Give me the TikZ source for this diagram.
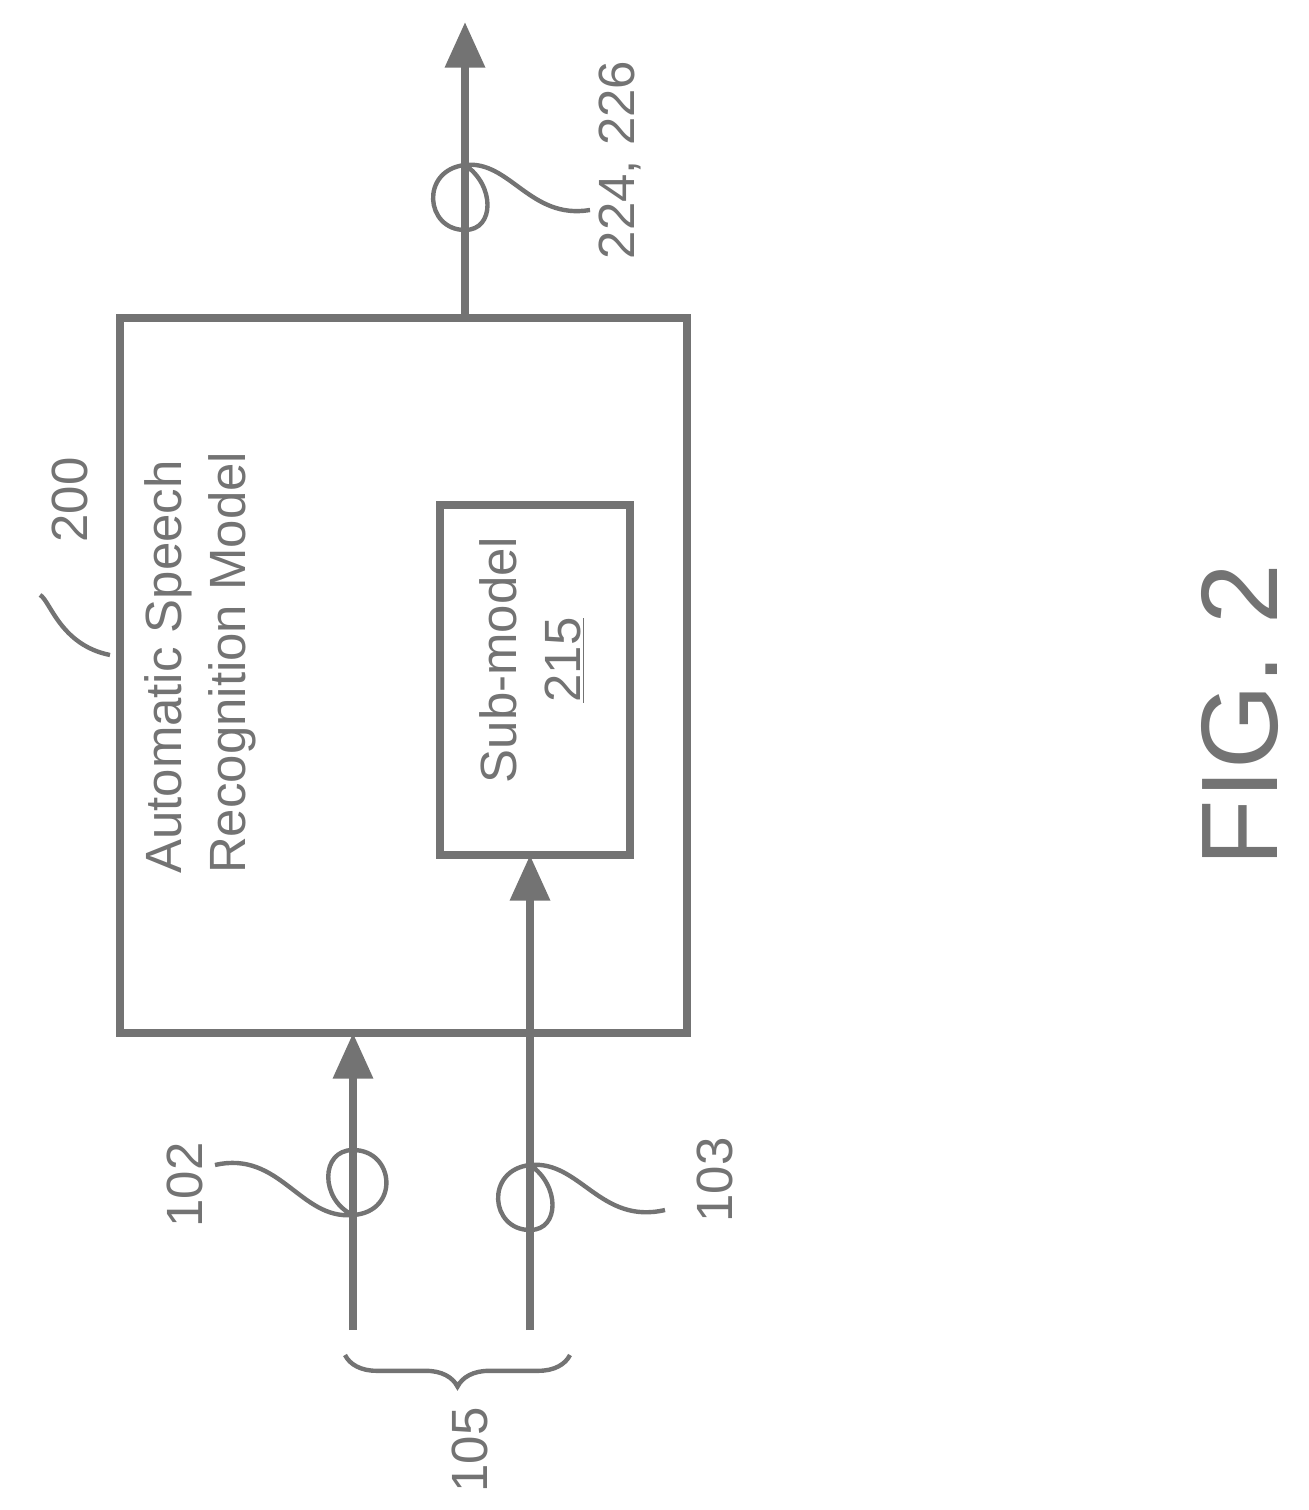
\documentclass[tikz,border=0pt]{standalone}
\usepackage{fontspec}
\setmainfont{Liberation Sans}
\usetikzlibrary{arrows.meta,positioning,decorations.pathreplacing}
\definecolor{ink}{rgb}{.45,.45,.45}
\tikzset{
  line/.style={draw=ink,line width=4.5pt},
  sig/.style={line,-{Triangle[length=26pt,width=22pt]}},
  lead/.style={draw=ink,line width=2.5pt},
  lbl/.style={rotate=90,text=ink,font=\fontsize{29}{36}\selectfont}
}
\begin{document}
\begin{tikzpicture}[x=0.02cm,y=-0.02cm]
  \useasboundingbox (0,0) rectangle (1308,1510);
  % boxes
  \draw[line] (120,318) rectangle (687,1033);
  \draw[line] (440,505) rectangle (630,855);
  \coordinate (asrtop) at (465,318);
  \coordinate (asrbot) at (353,1033);
  \coordinate (subbot) at (530,855);
  \coordinate (out) at (465,22);
  \coordinate (in1) at (353,1330);
  \coordinate (in2) at (530,1330);
  \node[lbl,align=left,anchor=south west] (asr) at (262,880) {Automatic Speech\\Recognition Model};
  \node[lbl,align=center] (sub) at (532,660) {Sub-model\\\underline{215}};
  % signals
  \draw[sig] (in1) -- (asrbot);
  \draw[sig] (in2) -- (subbot);
  \draw[sig] (asrtop) -- (out);
  % loops
  \draw[lead] (215,1165) .. controls (280,1150) and (300,1220) .. (353,1215)
    .. controls (400,1212) and (395,1150) .. (353,1150)
    .. controls (320,1150) and (320,1200) .. (353,1215);
  \draw[lead] (665,1210) .. controls (600,1225) and (580,1160) .. (530,1165)
    .. controls (485,1170) and (490,1230) .. (530,1230)
    .. controls (560,1230) and (560,1185) .. (530,1165);
  \draw[lead] (590,210) .. controls (530,220) and (510,160) .. (465,165)
    .. controls (420,170) and (425,230) .. (465,230)
    .. controls (495,230) and (495,185) .. (465,165);
  \draw[lead] (110,655) .. controls (60,645) and (50,600) .. (40,595);
  % brace
  \draw[lead,decorate,decoration={brace,amplitude=18pt}] (570,1355) -- (345,1355);
  % labels
  \node[lbl] (l102) at (185,1185) {102};
  \node[lbl] (l103) at (715,1180) {103};
  \node[lbl] (l224) at (620,160) {224, 226};
  \node[lbl] (l200) at (70,500) {200};
  \node[lbl] (l105) at (470,1450) {105};
  \node[lbl,inner sep=0pt,font=\fontsize{62}{68}\selectfont] (fig) at (1240,715) {FIG. 2};
\end{tikzpicture}
\end{document}
